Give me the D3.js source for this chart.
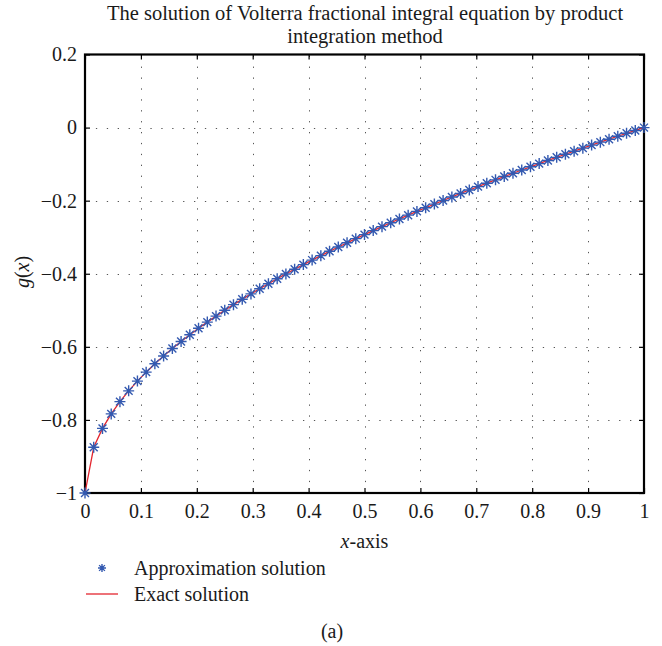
<!DOCTYPE html>
<html>
<head>
<meta charset="utf-8">
<script src="https://cdn.jsdelivr.net/npm/d3@7"></script>
<style>
  html, body { margin: 0; padding: 0; background: #fff; }
  svg text { font-family: "Liberation Serif", "Times New Roman", serif; fill: #1a1a1a; }
</style>
</head>
<body>
<svg id="chart" width="662" height="646"></svg>
<script>
// Nodes x_k of the product integration scheme
const xNodes = [
  0, 0.0156, 0.0313, 0.0469, 0.0625, 0.0781, 0.0938, 0.1094, 0.125, 0.1406,
  0.1563, 0.1719, 0.1875, 0.2031, 0.2188, 0.2344, 0.25, 0.2656, 0.2813, 0.2969,
  0.3125, 0.3281, 0.3438, 0.3594, 0.375, 0.3906, 0.4063, 0.4219, 0.4375, 0.4531,
  0.4688, 0.4844, 0.5, 0.5156, 0.5313, 0.5469, 0.5625, 0.5781, 0.5938, 0.6094,
  0.625, 0.6406, 0.6563, 0.6719, 0.6875, 0.7031, 0.7188, 0.7344, 0.75, 0.7656,
  0.7813, 0.7969, 0.8125, 0.8281, 0.8438, 0.8594, 0.875, 0.8906, 0.9063, 0.9219,
  0.9375, 0.9531, 0.9688, 0.9844, 1
];
// Approximate solution g(x_k)
const approxValues = [
  -1, -0.875, -0.8232, -0.7835, -0.75, -0.7205, -0.6938, -0.6693, -0.6464, -0.625,
  -0.6047, -0.5854, -0.567, -0.5493, -0.5323, -0.5159, -0.5, -0.4846, -0.4697, -0.4551,
  -0.441, -0.4272, -0.4137, -0.4005, -0.3876, -0.375, -0.3626, -0.3505, -0.3386, -0.3269,
  -0.3153, -0.304, -0.2929, -0.2819, -0.2711, -0.2605, -0.25, -0.2397, -0.2294, -0.2194,
  -0.2094, -0.1996, -0.1899, -0.1803, -0.1708, -0.1615, -0.1522, -0.143, -0.134, -0.125,
  -0.1161, -0.1073, -0.0986, -0.09, -0.0814, -0.073, -0.0646, -0.0563, -0.048, -0.0399,
  -0.0318, -0.0237, -0.0157, -0.0078, 0
];
// Exact solution at the same nodes
const exactValues = approxValues.slice();

const xTicks = [0, 0.1, 0.2, 0.3, 0.4, 0.5, 0.6, 0.7, 0.8, 0.9, 1];
const yTicks = [-1, -0.8, -0.6, -0.4, -0.2, 0, 0.2];
const titleLines = ["The solution of Volterra fractional integral equation by product", "integration method"];
const legendLabels = ["Approximation solution", "Exact solution"];

const svg = d3.select("#chart");
const L = 85, R = 644, T = 54.5, B = 493;
const x = d3.scaleLinear().domain([0, 1]).range([L, R]);
const y = d3.scaleLinear().domain([-1, 0.2]).range([B, T]);

const blue = "#3359b0", red = "#e3262f";
const FS = 20;
const fmt = v => (v < 0 ? "\u2212" : "") + String(Math.abs(+v.toFixed(1)));

// grid
const grid = svg.append("g").attr("stroke", "#555").attr("stroke-width", 1)
  .attr("stroke-dasharray", "1.3,9.6");
grid.selectAll(".gx").data(xTicks.slice(1, -1)).join("line")
  .attr("x1", d => Math.round(x(d)) + 0.5).attr("x2", d => Math.round(x(d)) + 0.5)
  .attr("y1", B).attr("y2", T);
grid.selectAll(".gy").data(yTicks.slice(1, -1)).join("line")
  .attr("y1", d => Math.round(y(d)) + 0.5).attr("y2", d => Math.round(y(d)) + 0.5)
  .attr("x1", L).attr("x2", R);

// axes with inward ticks on all four sides
const tk = 5;
const axB = svg.append("g").attr("transform", `translate(0,${B})`)
  .call(d3.axisBottom(x).tickValues(xTicks).tickSizeInner(-tk).tickSizeOuter(0).tickPadding(11).tickFormat(d => d3.format("")(+d.toFixed(1))));
const axT = svg.append("g").attr("transform", `translate(0,${T})`)
  .call(d3.axisTop(x).tickValues(xTicks).tickSizeInner(-tk).tickSizeOuter(0).tickFormat(""));
const axL = svg.append("g").attr("transform", `translate(${L},0)`)
  .call(d3.axisLeft(y).tickValues(yTicks).tickSizeInner(-tk).tickSizeOuter(0).tickPadding(8).tickFormat(fmt));
const axR = svg.append("g").attr("transform", `translate(${R},0)`)
  .call(d3.axisRight(y).tickValues(yTicks).tickSizeInner(-tk).tickSizeOuter(0).tickFormat(""));
[axB, axT, axL, axR].forEach(a => {
  a.select(".domain").remove();
  a.selectAll("line").attr("stroke", "#000").attr("stroke-width", 1.2);
  a.selectAll("text").attr("font-size", FS).attr("fill", "#1a1a1a")
    .style("font-family", '"Liberation Serif", serif');
});
axB.selectAll("text").attr("dy", "0.71em");

// frame
svg.append("rect").attr("x", L).attr("y", T).attr("width", R - L).attr("height", B - T)
  .attr("fill", "none").attr("stroke", "#000").attr("stroke-width", 2.2);

// exact solution line
svg.append("path")
  .datum(xNodes.map((d, i) => [d, exactValues[i]]))
  .attr("fill", "none").attr("stroke", red).attr("stroke-width", 1.3)
  .attr("d", d3.line().x(d => x(d[0])).y(d => y(d[1])));

// asterisk marker
function star(g, r, w) {
  const d = r * 0.72;
  g.append("path")
    .attr("d", `M${-r},0H${r}M0,${-r}V${r}M${-d},${-d}L${d},${d}M${-d},${d}L${d},${-d}`)
    .attr("stroke", blue).attr("stroke-width", w).attr("fill", "none");
}
svg.append("g").selectAll("g").data(approxValues).join("g")
  .attr("transform", (d, i) => `translate(${x(xNodes[i])},${y(d)})`)
  .each(function () { star(d3.select(this), 5.5, 1.4); });

// titles and labels
const title = svg.append("text").attr("text-anchor", "middle").attr("font-size", 20.5);
title.selectAll("tspan").data(titleLines).join("tspan")
  .attr("x", 365).attr("y", (d, i) => 20 + i * 23).text(d => d);

const xl = svg.append("text").attr("x", (L + R) / 2).attr("y", 548)
  .attr("text-anchor", "middle").attr("font-size", FS);
xl.append("tspan").attr("font-style", "italic").text("x");
xl.append("tspan").text("-axis");

const yl = svg.append("text").attr("transform", "translate(29,272) rotate(-90)")
  .attr("text-anchor", "middle").attr("font-size", FS);
yl.append("tspan").attr("font-style", "italic").text("g");
yl.append("tspan").text("(");
yl.append("tspan").attr("font-style", "italic").text("x");
yl.append("tspan").text(")");

// legend
const lg = svg.append("g");
const s = lg.append("g").attr("transform", "translate(102,568)");
star(s, 4, 1.4);
lg.append("line").attr("x1", 86).attr("x2", 118).attr("y1", 594).attr("y2", 594)
  .attr("stroke", red).attr("stroke-width", 1.3);
lg.selectAll("text").data(legendLabels).join("text")
  .attr("x", 134).attr("y", (d, i) => 575 + i * 26).attr("font-size", FS).text(d => d);

svg.append("text").attr("x", 332).attr("y", 638).attr("text-anchor", "middle")
  .attr("font-size", FS).text("(a)");
</script>
</body>
</html>
